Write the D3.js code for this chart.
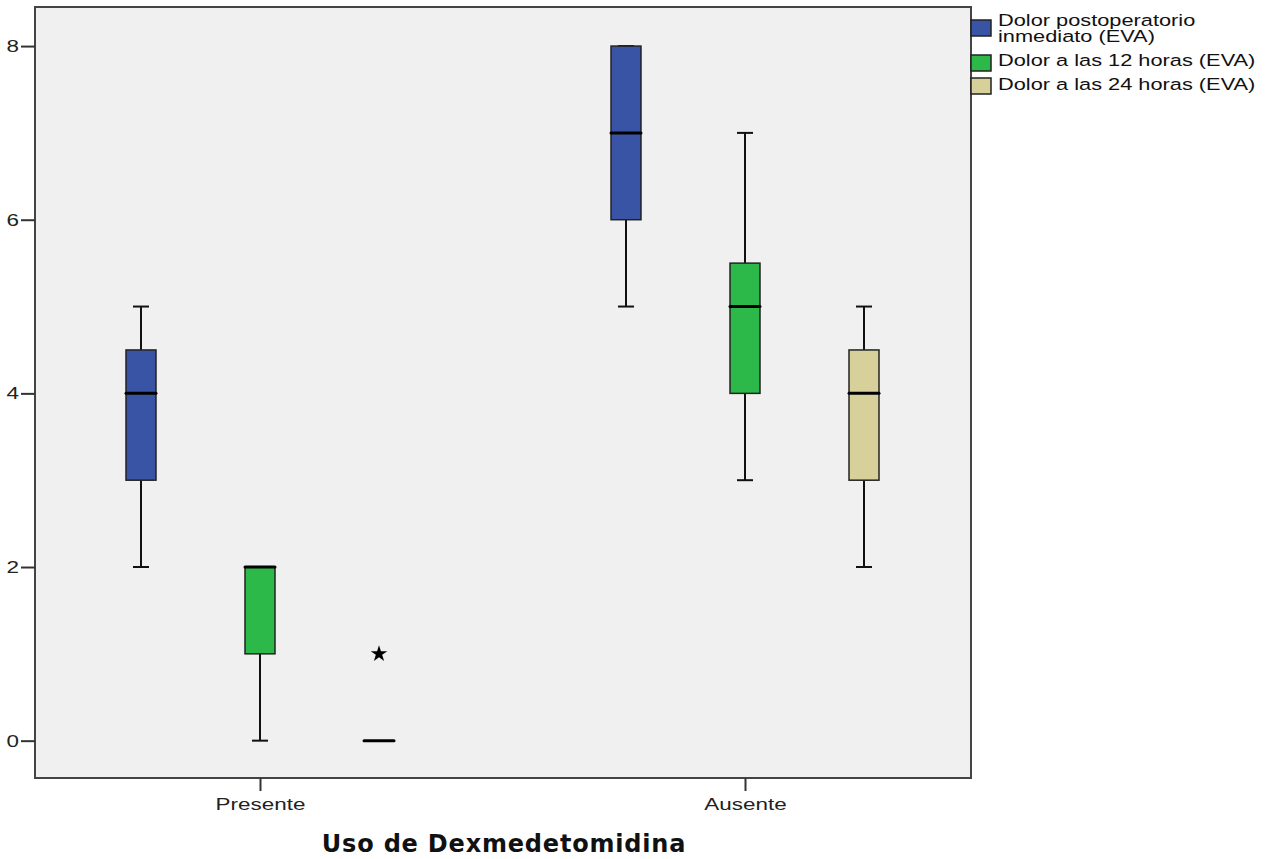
<!DOCTYPE html>
<html>
<head>
<meta charset="utf-8">
<script src="https://cdnjs.cloudflare.com/ajax/libs/d3/7.8.5/d3.min.js"></script>
<style>
  body { margin: 0; background: #fff; }
  text { font-family: "Liberation Sans", Arial, sans-serif; }
</style>
</head>
<body>
<div id="chart"></div>
<script>
// boxplot - Uso de Dexmedetomidina

var groups = ["Presente", "Ausente"];
var seriesNames = ["Dolor postoperatorio inmediato (EVA)", "Dolor a las 12 horas (EVA)", "Dolor a las 24 horas (EVA)"];
var seriesColors = ["#3a54a5", "#2db84a", "#d7d09a"];
var yTicks = [0, 2, 4, 6, 8];

// [min, q1, median, q3, max] per group, per series
var presenteStats = [[2, 3, 4, 4.5, 5], [0, 1, 2, 2, 2], [0, 0, 0, 0, 0]];
var ausenteStats = [[5, 6, 7, 8, 8], [3, 4, 5, 5.5, 7], [2, 3, 4, 4.5, 5]];
var extremes = [{group: "Presente", series: 2, value: 1}];

var W = 1279, H = 859;
var plot = {left: 35, top: 7, right: 971, bottom: 778};
var stretch = 1.32; // the original fonts are rendered wide

var svg = d3.select("#chart").append("svg")
    .attr("width", W)
    .attr("height", H);

var x = d3.scalePoint()
    .domain(groups)
    .range([260, 745]);

var xs = d3.scaleBand()
    .domain(seriesNames)
    .range([-134, 134])
    .paddingInner(0.748);

var y = d3.scaleLinear()
    .domain([-0.43, 8.45])
    .range([plot.bottom, plot.top]);

//background
svg.append("rect")
    .attr("x", plot.left).attr("y", plot.top)
    .attr("width", plot.right - plot.left)
    .attr("height", plot.bottom - plot.top)
    .attr("fill", "#f0f0f0");

//boxes
var rows = [];
groups.forEach(function(g, gi) {
    var stats = gi == 0 ? presenteStats : ausenteStats;
    stats.forEach(function(s, si) {
        rows.push({group: g, series: si, s: s});
    });
});

var bw = xs.bandwidth();
var box = svg.append("g").selectAll("g.box")
    .data(rows)
    .enter()
    .append("g")
    .attr("class", "box")
    .attr("transform", d => "translate(" + (x(d.group) + xs(seriesNames[d.series])) + ",0)");

// whiskers
box.append("line")
    .attr("x1", bw / 2).attr("x2", bw / 2)
    .attr("y1", d => y(d.s[0])).attr("y2", d => y(d.s[1]))
    .attr("stroke", "#111").attr("stroke-width", 2);
box.append("line")
    .attr("x1", bw / 2).attr("x2", bw / 2)
    .attr("y1", d => y(d.s[3])).attr("y2", d => y(d.s[4]))
    .attr("stroke", "#111").attr("stroke-width", 2);
box.filter(d => d.s[4] > d.s[0]).append("line")
    .attr("x1", bw / 2 - 8).attr("x2", bw / 2 + 8)
    .attr("y1", d => y(d.s[0])).attr("y2", d => y(d.s[0]))
    .attr("stroke", "#111").attr("stroke-width", 2);
box.filter(d => d.s[4] > d.s[0]).append("line")
    .attr("x1", bw / 2 - 8).attr("x2", bw / 2 + 8)
    .attr("y1", d => y(d.s[4])).attr("y2", d => y(d.s[4]))
    .attr("stroke", "#111").attr("stroke-width", 2);

box.filter(d => d.s[3] > d.s[1]).append("rect")
    .attr("x", 0)
    .attr("width", bw)
    .attr("y", d => y(d.s[3]))
    .attr("height", d => y(d.s[1]) - y(d.s[3]))
    .attr("fill", d => seriesColors[d.series])
    .attr("stroke", "#222")
    .attr("stroke-width", 1.5);

// median
box.append("line")
    .attr("x1", 0).attr("x2", bw)
    .attr("y1", d => y(d.s[2])).attr("y2", d => y(d.s[2]))
    .attr("stroke", "#000")
    .attr("stroke-width", 3)
    .attr("stroke-linecap", "round");

// extreme values
svg.append("g").selectAll("path")
    .data(extremes)
    .enter()
    .append("path")
    .attr("transform", d => "translate(" + (x(d.group) + xs(seriesNames[d.series]) + bw / 2) + "," + y(d.value) + ")")
    .attr("d", d3.symbol(d3.symbolStar).size(85))
    .attr("fill", "#000");

//frame
svg.append("rect")
    .attr("x", plot.left).attr("y", plot.top)
    .attr("width", plot.right - plot.left)
    .attr("height", plot.bottom - plot.top)
    .attr("fill", "none")
    .attr("stroke", "#444")
    .attr("stroke-width", 2);

//axis
var yAxis = svg.append("g")
    .attr("transform", "translate(" + plot.left + ",0)")
    .call(d3.axisLeft(y).tickValues(yTicks).tickSize(14));
yAxis.select(".domain").remove();
yAxis.selectAll(".tick line").attr("stroke", "#333").attr("stroke-width", 2);
yAxis.selectAll(".tick text")
    .attr("x", 0)
    .attr("transform", "translate(-16,0) scale(" + stretch + ",1)")
    .style("font-family", "'Liberation Sans', Arial, sans-serif")
    .style("font-size", "17px")
    .attr("fill", "#222");

var xAxis = svg.append("g")
    .attr("transform", "translate(0," + plot.bottom + ")")
    .call(d3.axisBottom(x).tickSize(13).tickPadding(5));
xAxis.select(".domain").remove();
xAxis.selectAll(".tick line").attr("stroke", "#333").attr("stroke-width", 2);
xAxis.selectAll(".tick text")
    .attr("y", 0)
    .attr("dy", 0)
    .attr("transform", "translate(0,32) scale(" + stretch + ",1)")
    .style("font-family", "'Liberation Sans', Arial, sans-serif")
    .style("font-size", "17px")
    .attr("fill", "#222");

svg.append("text")
    .attr("x", 504)
    .attr("y", 852)
    .attr("text-anchor", "middle")
    .style("font-family", "'DejaVu Sans', Verdana, sans-serif")
    .style("font-size", "24px")
    .style("font-weight", "bold")
    .style("letter-spacing", "0.8px")
    .attr("fill", "#111")
    .text("Uso de Dexmedetomidina");

//legend
var legendLines = [["Dolor postoperatorio", "inmediato (EVA)"], ["Dolor a las 12 horas (EVA)"], ["Dolor a las 24 horas (EVA)"]];
var legendBox = [20, 55, 78];
var legendBase = [[26, 42], [66], [90]];
var legend = svg.append("g").selectAll("g")
    .data(seriesNames)
    .enter()
    .append("g");
legend.append("rect")
    .attr("x", 971).attr("y", (d, i) => legendBox[i])
    .attr("width", 20).attr("height", 16)
    .attr("fill", (d, i) => seriesColors[i])
    .attr("stroke", "#222")
    .attr("stroke-width", 1.5);
legend.each(function(d, i) {
    var g = d3.select(this);
    legendLines[i].forEach(function(line, li) {
        g.append("text")
            .attr("transform", "translate(998," + legendBase[i][li] + ") scale(" + stretch + ",1)")
            .style("font-size", "16.5px")
            .attr("fill", "#111")
            .text(line);
    });
});
</script>
</body>
</html>
